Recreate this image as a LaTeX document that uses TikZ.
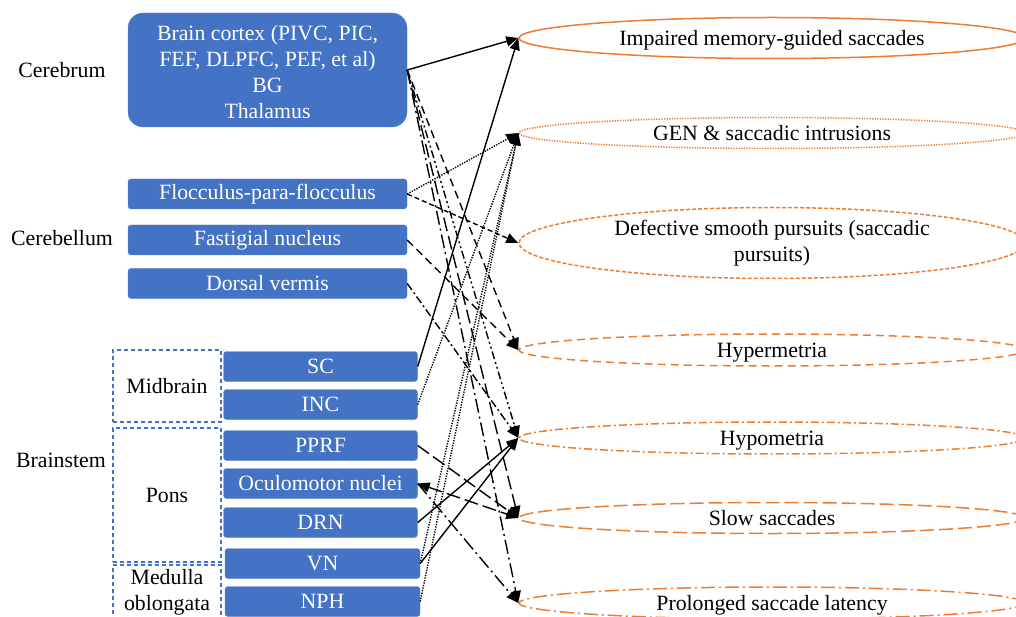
\documentclass[tikz,border=0pt]{standalone}
\usepackage{fontspec}
\setmainfont{Liberation Serif}
\usepackage{tikz}
\usetikzlibrary{shapes.geometric, arrows.meta, positioning}
\definecolor{boxblue}{HTML}{4472C4}
\definecolor{signorange}{HTML}{ED7D31}
\tikzset{
  % anatomical structures
  region/.style={rectangle, fill=boxblue, draw=boxblue!85!white, rounded corners=3pt,
                 minimum width=279pt, minimum height=30pt, inner sep=0pt,
                 text=white, align=center},
  nucleus/.style={region, minimum width=194pt},
  % dashed brainstem parts
  part/.style={rectangle, draw=boxblue, line width=1.2pt,
               dash pattern=on 4pt off 3pt, minimum width=108pt,
               inner sep=0pt, align=center},
  % eye movement signs
  sign/.style={ellipse, draw=signorange, line width=1.5pt,
               minimum width=506pt, minimum height=32pt, inner sep=0pt,
               text height=17pt, text depth=2pt},
  bigsign/.style={ellipse, draw=signorange, line width=1.5pt,
                  minimum width=506pt, minimum height=71pt, inner sep=0pt,
                  align=center},
  % connectors
  link/.style={-{Triangle[length=12pt,width=10pt]}, draw=black, line width=1.4pt},
  % line patterns, shared by signs and connectors
  fdot/.style={dash pattern=on 1.3pt off 1.3pt},
  sdash/.style={dash pattern=on 5pt off 3pt},
  mdash/.style={dash pattern=on 8pt off 5pt},
  ddot/.style={dash pattern=on 8pt off 3pt on 2pt off 3pt},
  dddot/.style={dash pattern=on 8pt off 3pt on 2pt off 3pt on 2pt off 3pt},
  ldash/.style={dash pattern=on 14pt off 5pt},
  ldot/.style={dash pattern=on 14pt off 4pt on 2pt off 4pt},
}

\begin{document}
\begin{tikzpicture}[x=1pt, y=-1pt, font=\fontsize{21.8}{26}\selectfont]

\useasboundingbox (0,0) rectangle (1016,617);

% ── Level labels ─────────────────────────────────────────────────────────────
\node (cerebrum)   at (62, 70)  {Cerebrum};
\node (cerebellum) at (62, 238) {Cerebellum};
\node (brainstem)  at (61, 460) {Brainstem};

% ── Cerebrum / cerebellum ────────────────────────────────────────────────────
\node[region, minimum height=114pt, rounded corners=15pt] (cortex) at (267.5, 70)
  {\rule{0pt}{20pt}Brain cortex (PIVC, PIC,\\FEF, DLPFC, PEF, et al)\\BG\\Thalamus};
\node[region] (floc)   at (267.5, 194)   {Flocculus-para-flocculus};
\node[region] (fast)   at (267.5, 240)   {Fastigial nucleus};
\node[region] (vermis) at (267.5, 283.5) {Dorsal vermis};

% ── Brainstem parts ──────────────────────────────────────────────────────────
\node[part, minimum height=72pt]  (midbrain) at (167, 386) {Midbrain};
\node[part, minimum height=134pt] (pons)     at (167, 495) {Pons};
\node[part, minimum height=54pt]  (medulla)  at (167, 592) {Medulla\\oblongata};

\node[nucleus] (sc)   at (320.5, 366.5) {SC};
\node[nucleus] (inc)  at (320.5, 404.5) {INC};
\node[nucleus] (pprf) at (320.5, 445.5) {PPRF};
\node[nucleus] (ocul) at (320.5, 483.5) {Oculomotor nuclei};
\node[nucleus] (drn)  at (320.5, 522.5) {DRN};
\node[nucleus, minimum width=195pt] (vn)  at (322.5, 563.5) {VN};
\node[nucleus, minimum width=195pt] (nph) at (322.5, 601.5) {NPH};

% ── Signs ────────────────────────────────────────────────────────────────────
\node[sign, minimum height=41pt] (memory)  at (772, 38)  {Impaired memory-guided saccades};
\node[sign, fdot, minimum height=31pt] (gen) at (772, 133) {GEN \& saccadic intrusions};
\node[bigsign, dash pattern=on 4pt off 2pt] (pursuit) at (772, 243)
  {Defective smooth pursuits (saccadic\\pursuits)};
\node[sign, mdash] (hyper)   at (772, 350) {Hypermetria};
\node[sign, ddot]  (hypo)    at (772, 438) {Hypometria};
\node[sign, ldash, minimum height=31pt] (slow) at (772, 518) {Slow saccades};
\node[sign, ldot]  (latency) at (772, 603) {Prolonged saccade latency};

% ── Connectors ───────────────────────────────────────────────────────────────
% solid
\draw[link] (cortex.east) -- (memory.west);
\draw[link] (sc.east)     -- (memory.west);
\draw[link] (drn.east)    -- (hypo.west);
\draw[link] (vn.east)     -- (hypo.west);

% dotted, to GEN
\draw[link, fdot] (floc.east) -- (gen.west);
\draw[link, fdot] (inc.east)  -- (gen.west);
\draw[link, fdot] (vn.east)   -- (gen.west);
\draw[link, fdot] (nph.east)  -- (gen.west);

% dashed
\draw[link, sdash] (floc.east)   -- (pursuit.west);
\draw[link, mdash] (cortex.east) -- (hyper.west);
\draw[link, mdash] (fast.east)   -- (hyper.west);

% dash-dotted
\draw[link, ddot]  (vermis.east) -- (hypo.west);
\draw[link, dddot] (cortex.east) -- (hypo.west);

% long dashes
\draw[link, ldash] (cortex.east) -- (slow.west);
\draw[link, ldash] (pprf.east)   -- (slow.west);
\draw[link, ldash, {Triangle[length=12pt,width=10pt]}-{Triangle[length=12pt,width=10pt]}]
  (ocul.east) -- (slow.west);

% long dash-dotted
\draw[link, ldot] (ocul.east)   -- (latency.west);
\draw[link, ldot] (cortex.east) -- (latency.west);

\end{tikzpicture}
\end{document}
